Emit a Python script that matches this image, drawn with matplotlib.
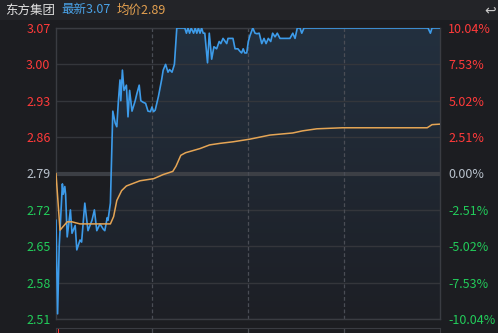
import matplotlib
matplotlib.use("Agg")
import matplotlib.pyplot as plt
import numpy as np
from matplotlib.colors import LinearSegmentedColormap

plt.rcParams['font.family'] = ['Noto Sans CJK SC', 'DejaVu Sans']

# ---- data ----
stock_name = "东方集团"
latest = "最新3.07"
avg_label = "均价2.89"
prev_close = 2.79

# (minute, price) points of the price line
price_points = [
    (0, 2.70), (1, 2.52), (2, 2.65), (4, 2.77), (4.5, 2.75), (5.5, 2.765), (6, 2.75),
    (7, 2.668), (9, 2.72), (10, 2.675), (12, 2.69), (13, 2.643), (15, 2.662), (16, 2.658),
    (18, 2.733), (20, 2.68), (22.5, 2.70), (24, 2.72), (25.5, 2.68), (27.5, 2.693),
    (29.5, 2.683), (30.5, 2.68), (32, 2.705), (32.5, 2.70), (34, 2.733), (35.5, 2.91),
    (37, 2.887), (38, 2.88), (39, 2.93), (40, 2.97), (40.5, 2.93), (41.5, 2.989),
    (42.5, 2.95), (44, 2.96), (45, 2.899), (46, 2.95), (47.5, 2.91), (49.5, 2.93),
    (50.5, 2.943), (52, 2.96), (53, 2.93), (54.5, 2.927), (56, 2.925), (57.5, 2.91),
    (59, 2.909), (60, 2.918), (61, 2.909), (62, 2.912), (64, 2.938), (66, 2.97),
    (67, 2.989), (68.5, 3.0), (70, 2.985), (71, 2.99), (72.5, 2.985), (74, 3.0),
    (75.5, 3.07), (80.5, 3.07), (81.5, 3.06), (82.5, 3.07), (83.5, 3.06), (84.5, 3.07),
    (86, 3.06), (87, 3.07), (88, 3.06), (89, 3.07), (90, 3.06), (91, 3.07), (92, 3.06),
    (93, 3.06), (94.7, 3.003), (95.8, 3.06), (97.3, 3.01), (98.7, 3.034), (100.4, 3.03),
    (102, 3.044), (103, 3.04), (104.4, 3.05), (106.7, 3.04), (107.5, 3.05), (110.6, 3.05),
    (111.9, 3.03), (113.7, 3.03), (115, 3.025), (116, 3.022), (117, 3.03), (118, 3.022),
    (119.2, 3.022), (120.2, 3.044), (121.2, 3.055), (123, 3.07), (124.4, 3.06),
    (125.6, 3.059), (127, 3.06), (128.6, 3.04), (130, 3.05), (131.3, 3.04), (132.7, 3.05),
    (134.2, 3.044), (135.4, 3.06), (136.9, 3.053), (138.3, 3.06), (140, 3.05),
    (146.2, 3.05), (148, 3.06), (149.4, 3.05), (150.8, 3.07), (152.5, 3.07),
    (153.6, 3.06), (155, 3.07), (232.5, 3.07), (234, 3.06), (235, 3.07), (240, 3.07),
]

# (minute, price) points of the average-price line
avg_points = [
    (0, 2.79), (2.5, 2.681), (7, 2.697), (10, 2.697), (15, 2.693), (34, 2.693),
    (36, 2.707), (38, 2.738), (41, 2.757), (44, 2.766), (52.5, 2.776), (61, 2.78),
    (67, 2.788), (73, 2.794), (75, 2.804), (78, 2.825), (81, 2.83), (90, 2.838),
    (96, 2.845), (102.5, 2.848), (110.6, 2.851), (121, 2.856), (133.75, 2.864),
    (148, 2.868), (154, 2.872), (163, 2.876), (179, 2.878), (232, 2.878), (235, 2.884),
    (240, 2.885),
]

price_ticks = [2.51, 2.58, 2.65, 2.72, 2.79, 2.86, 2.93, 3.00, 3.07]
price_labels = ["2.51", "2.58", "2.65", "2.72", "2.79", "2.86", "2.93", "3.00", "3.07"]
pct_labels = ["-10.04%", "-7.53%", "-5.02%", "-2.51%", "0.00%", "2.51%", "5.02%", "7.53%", "10.04%"]

price_t = [p[0] for p in price_points]
price_v = [p[1] for p in price_points]
avg_t = [p[0] for p in avg_points]
avg_v = [p[1] for p in avg_points]

# ---- colours ----
BG = '#1c1d21'
HEADER = '#232428'
GRID = '#34363b'
RED = '#ff3a3a'
GREEN = '#22cc5a'
NEUTRAL = '#b9c2cc'
BLUE = '#3d9be9'
ORANGE = '#e5a555'

W, H = 498, 333
fig = plt.figure(figsize=(W / 100, H / 100), dpi=100, facecolor=BG)

# header band
hdr = fig.add_axes([0, 1 - 20 / H, 1, 20 / H])
hdr.set_facecolor(HEADER)
hdr.set_xticks([]); hdr.set_yticks([])
for s in hdr.spines.values():
    s.set_visible(False)
fig.text(5 / W, 1 - 10 / H, stock_name, color='#e2e2e2', fontsize=9, va='center', ha='left')
fig.text(61 / W, 1 - 10 / H, latest, color='#4aa3e8', fontsize=9, va='center', ha='left')
fig.text(117 / W, 1 - 10 / H, avg_label, color='#e3a050', fontsize=9, va='center', ha='left')
fig.text(490 / W, 1 - 10 / H, "↩", color='#c8c8c8', fontsize=10, va='center', ha='center',
         family=['DejaVu Sans'])

# main axes
x0, x1 = 56, 440
y_top, y_bot = 28, 319
ax = fig.add_axes([x0 / W, 1 - y_bot / H, (x1 - x0) / W, (y_bot - y_top) / H])
ax.set_facecolor(BG)
ax.set_xlim(0, 240)
ax.set_ylim(price_ticks[0], price_ticks[-1])

# gridlines
for p in price_ticks:
    if abs(p - prev_close) < 1e-9:
        ax.axhline(p, color='#3c3f45', lw=3, zorder=1)
    else:
        ax.axhline(p, color=GRID, lw=1, zorder=1)
for t in [60, 120, 180]:
    ax.axvline(t, color='#4a4d55', lw=0.9, ls=(0, (3, 2)), zorder=1)

# gradient fill under price line
poly = ax.fill_between(price_t, price_v, price_ticks[0], color='none', lw=0)
grad = np.linspace(1, 0, 256).reshape(-1, 1)
cmap = LinearSegmentedColormap.from_list('g', ['#1d1f25', '#23303f'])
im = ax.imshow(grad, extent=[0, 240, price_ticks[0], price_ticks[-1]], aspect='auto',
               cmap=cmap, origin='upper', zorder=0.5)
path = poly.get_paths()[0]
im.set_clip_path(path, transform=ax.transData)

ax.plot(price_t, price_v, color=BLUE, lw=1.2, zorder=3)
ax.plot(avg_t, avg_v, color=ORANGE, lw=1.1, zorder=4)

for s in ax.spines.values():
    s.set_color('#3a3c42')
    s.set_linewidth(1)

ax.set_yticks(price_ticks)
ax.set_yticklabels(price_labels)
ax.set_xticks([])
ax.tick_params(axis='y', length=0, pad=4, labelsize=9)
for lab, p in zip(ax.get_yticklabels(), price_ticks):
    lab.set_color(RED if p > prev_close + 1e-9 else (GREEN if p < prev_close - 1e-9 else NEUTRAL))

ax2 = ax.twinx()
ax2.set_ylim(ax.get_ylim())
ax2.set_yticks(price_ticks)
ax2.set_yticklabels(pct_labels)
ax2.tick_params(axis='y', length=0, pad=6, labelsize=9)
for lab, p in zip(ax2.get_yticklabels(), price_ticks):
    lab.set_color(RED if p > prev_close + 1e-9 else (GREEN if p < prev_close - 1e-9 else NEUTRAL))
for s in ax2.spines.values():
    s.set_visible(False)

# top of the volume panel (cut off at the bottom)
vol = fig.add_axes([x0 / W, -10 / H, (x1 - x0) / W, 15 / H])
vol.set_facecolor(BG)
vol.set_xlim(0, 240)
vol.set_xticks([]); vol.set_yticks([])
for s in vol.spines.values():
    s.set_color('#3a3c42')
for t in [60, 120, 180]:
    vol.axvline(t, color='#4a4d55', lw=0.9)
vol.bar([0.6], [1], width=0.6, color='#2fb8b0')
vol.bar([1.4], [1], width=0.6, color=RED)
vol.set_ylim(0, 1)

fig.savefig('out.png', dpi=100, facecolor=BG)
